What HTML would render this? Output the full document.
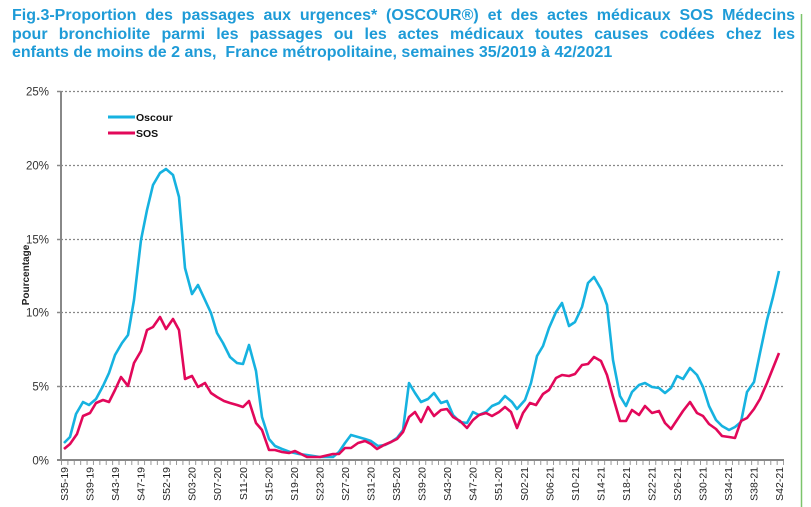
<!DOCTYPE html>
<html><head><meta charset="utf-8"><style>
body{margin:0;background:#fff;width:811px;height:507px;overflow:hidden;position:relative;font-family:"Liberation Sans",sans-serif}
#t{position:absolute;left:12px;top:7px;width:783px;color:#1E9BD7;font-weight:bold;font-size:16px;line-height:18.5px}
#t div{text-align:justify;text-align-last:justify;white-space:nowrap}
#t div.l{text-align-last:left}
svg{position:absolute;left:0;top:0}
</style></head><body>
<div id="t"><div>Fig.3-Proportion des passages aux urgences* (OSCOUR®) et des actes médicaux SOS Médecins</div><div>pour bronchiolite parmi les passages ou les actes médicaux toutes causes codées chez les</div><div class="l">enfants de moins de 2 ans,&nbsp; France métropolitaine, semaines 35/2019 à 42/2021</div></div>
<svg width="811" height="507" font-family="Liberation Sans, sans-serif">
<line x1="801.5" y1="14" x2="801.5" y2="507" stroke="#7CC46B" stroke-width="1.5"/>
<g stroke="#888" stroke-width="1.2" stroke-dasharray="2 2">
<line x1="61" y1="91.5" x2="783" y2="91.5"/><line x1="61" y1="165.5" x2="783" y2="165.5"/><line x1="61" y1="239.5" x2="783" y2="239.5"/><line x1="61" y1="312.5" x2="783" y2="312.5"/><line x1="61" y1="386.5" x2="783" y2="386.5"/>
</g>
<line x1="61" y1="91" x2="61" y2="461" stroke="#888" stroke-width="2"/>
<line x1="57" y1="460" x2="784" y2="460" stroke="#888" stroke-width="2"/>
<line x1="61" y1="463" x2="784" y2="463" stroke="#999" stroke-width="4" stroke-dasharray="1 5.39"/>
<g stroke="#888" stroke-width="1.5"><line x1="57" y1="91.5" x2="61" y2="91.5"/><line x1="57" y1="165.5" x2="61" y2="165.5"/><line x1="57" y1="239.5" x2="61" y2="239.5"/><line x1="57" y1="312.5" x2="61" y2="312.5"/><line x1="57" y1="386.5" x2="61" y2="386.5"/></g>
<g font-size="11.5" fill="#333" text-anchor="end">
<text x="49" y="95.5">25%</text><text x="49" y="169.5">20%</text><text x="49" y="243.5">15%</text><text x="49" y="316.5">10%</text><text x="49" y="390.5">5%</text><text x="49" y="464.5">0%</text>
</g>
<text transform="translate(29,275) rotate(-90)" font-size="10" font-weight="bold" fill="#222" text-anchor="middle">Pourcentage</text>
<line x1="108" y1="117" x2="135" y2="117" stroke="#16B2E0" stroke-width="3"/>
<line x1="108" y1="133" x2="135" y2="133" stroke="#E2085A" stroke-width="3"/>
<text x="136" y="121" font-size="10.5" font-weight="bold" fill="#111">Oscour</text>
<text x="136" y="137" font-size="10.5" font-weight="bold" fill="#111">SOS</text>
<g font-size="10.5" fill="#222" text-anchor="end">
<text transform="translate(68,467) rotate(-90)">S35-19</text>
<text transform="translate(93.5,467) rotate(-90)">S39-19</text>
<text transform="translate(119,467) rotate(-90)">S43-19</text>
<text transform="translate(144.6,467) rotate(-90)">S47-19</text>
<text transform="translate(170.2,467) rotate(-90)">S52-19</text>
<text transform="translate(195.7,467) rotate(-90)">S03-20</text>
<text transform="translate(221.2,467) rotate(-90)">S07-20</text>
<text transform="translate(246.8,467) rotate(-90)">S11-20</text>
<text transform="translate(272.3,467) rotate(-90)">S15-20</text>
<text transform="translate(297.9,467) rotate(-90)">S19-20</text>
<text transform="translate(323.4,467) rotate(-90)">S23-20</text>
<text transform="translate(349,467) rotate(-90)">S27-20</text>
<text transform="translate(374.5,467) rotate(-90)">S31-20</text>
<text transform="translate(400,467) rotate(-90)">S35-20</text>
<text transform="translate(425.6,467) rotate(-90)">S39-20</text>
<text transform="translate(451.1,467) rotate(-90)">S43-20</text>
<text transform="translate(476.7,467) rotate(-90)">S47-20</text>
<text transform="translate(502.2,467) rotate(-90)">S51-20</text>
<text transform="translate(527.8,467) rotate(-90)">S02-21</text>
<text transform="translate(553.3,467) rotate(-90)">S06-21</text>
<text transform="translate(578.8,467) rotate(-90)">S10-21</text>
<text transform="translate(604.4,467) rotate(-90)">S14-21</text>
<text transform="translate(629.9,467) rotate(-90)">S18-21</text>
<text transform="translate(655.5,467) rotate(-90)">S22-21</text>
<text transform="translate(681,467) rotate(-90)">S26-21</text>
<text transform="translate(706.6,467) rotate(-90)">S30-21</text>
<text transform="translate(732.1,467) rotate(-90)">S34-21</text>
<text transform="translate(757.7,467) rotate(-90)">S38-21</text>
<text transform="translate(783.2,467) rotate(-90)">S42-21</text>
</g>
<polyline fill="none" stroke="#16B2E0" stroke-width="2.6" stroke-linejoin="round" points="64,443 70,437 76,414 83,402 89,405 96,399 103,386 109,373 115,355 122,343 128,335 134,300 141,240 147,210 153,185 160,173 166,169 173,175 179,197 185,268 192,294 198,285 205,300 211,313 217,333 223,343 230,357 237,363 243,364 249,345 256,371 262,417 269,439 275,446 282,449 290,452 299,454 307,455 320,457 333,457 339,452 345,443 351,435 358,437 365,439 371,441 378,446 385,445 391,442 397,438 403,430 409,383 415,393 421,402 428,399 434,393 441,403 447,401 453,415 460,422 467,423 473,412 479,415 486,412 492,406 499,403 505,396 512,402 517,409 525,400 531,383 537,356 543,346 549,328 556,312 562,303 569,326 575,322 582,307 588,283 594,277 601,289 607,305 613,360 620,396 626,406 632,392 639,385 645,383 652,387 659,388 665,393 671,388 677,376 683,379 690,368 697,375 703,387 709,406 716,420 722,426 729,430 735,427 741,422 747,392 754,382 760,353 767,320 773,297 779,271"/>
<polyline fill="none" stroke="#E2085A" stroke-width="2.6" stroke-linejoin="round" points="64,449 70,444 77,434 83,416 90,413 96,403 103,400 109,402 115,390 121,377 128,386 134,363 141,351 147,330 153,327 160,317 166,329 173,319 179,330 185,379 192,376 198,387 205,383 211,393 217,397 224,401 230,403 237,405 243,407 249,401 256,423 262,430 269,450 275,450 282,452 289,453 295,451 307,457 320,457 333,454 339,454 345,448 351,448 358,443 365,441 371,444 377,449 384,445 391,442 397,439 403,432 409,417 415,412 421,422 428,407 434,416 441,410 447,409 453,417 460,421 467,428 473,420 479,415 486,413 492,416 499,412 505,407 511,412 517,428 523,413 530,403 536,405 543,394 549,390 556,378 562,375 569,376 575,374 582,365 588,364 594,357 601,361 607,375 613,397 620,421 626,421 632,410 639,415 645,406 652,413 659,411 665,423 671,429 677,420 683,411 690,402 697,413 703,416 709,424 716,429 722,436 729,437 735,438 741,421 747,418 754,409 760,399 767,383 773,368 779,353"/>
</svg>
</body></html>
